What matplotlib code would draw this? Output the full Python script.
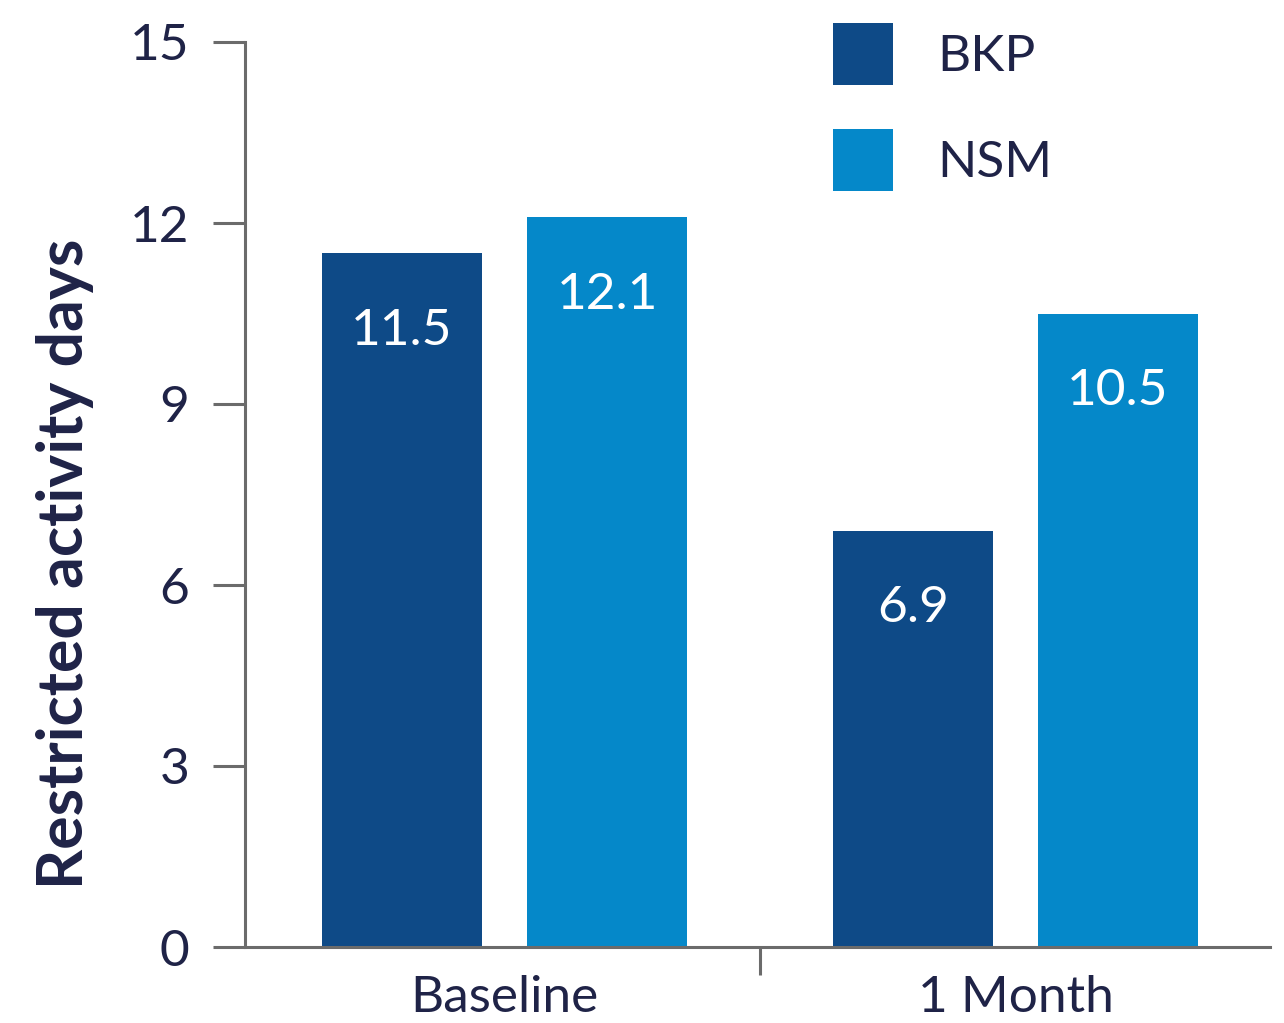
import matplotlib
matplotlib.use("Agg")
import matplotlib.pyplot as plt
import numpy as np

# Data
categories = ["Baseline", "1 Month"]
series_names = ["BKP", "NSM"]
bkp_values = [11.5, 6.9]
nsm_values = [12.1, 10.5]
y_ticks = [0, 3, 6, 9, 12, 15]

# Style
dark_blue = "#0e4a87"
light_blue = "#0588c9"
text_color = "#1f2347"
axis_color = "#6b6b6b"
plt.rcParams["font.family"] = ["Lato", "DejaVu Sans"]
fs = 37

fig = plt.figure(figsize=(12.84, 10.23), dpi=100)
ax = fig.add_axes([245 / 1284, 1 - 947 / 1023, 1025 / 1284, 905 / 1023])

x = np.arange(len(categories))
width = 0.313
offset = 0.2006
bars_bkp = ax.bar(x - offset, bkp_values, width, color=dark_blue, label=series_names[0])
bars_nsm = ax.bar(x + offset, nsm_values, width, color=light_blue, label=series_names[1])

for bars, vals in ((bars_bkp, bkp_values), (bars_nsm, nsm_values)):
    for b, v in zip(bars, vals):
        ax.annotate(f"{v:.1f}", xy=(b.get_x() + b.get_width() / 2, v),
                    xytext=(0, -56), textcoords="offset points",
                    ha="center", va="center", color="white", fontsize=fs)

ax.set_xlim(-0.508, 1.498)
ax.set_ylim(0, 15)

# Spines
for side in ("top", "right"):
    ax.spines[side].set_visible(False)
for side in ("left", "bottom"):
    ax.spines[side].set_color(axis_color)
    ax.spines[side].set_linewidth(2.2)

# Y axis
ax.set_yticks(y_ticks)
ax.tick_params(axis="y", length=23, width=2.2, color=axis_color,
               labelsize=fs, labelcolor=text_color, pad=17)

# X axis: labels at group centres, separator tick between groups
ax.set_xticks(x)
ax.set_xticklabels(categories)
ax.set_xticks([0.5], minor=True)
ax.tick_params(axis="x", which="major", length=0, labelsize=fs,
               labelcolor=text_color, pad=20)
ax.tick_params(axis="x", which="minor", length=20, width=2.2, color=axis_color)

ax.set_ylabel("Restricted activity days", fontsize=45, fontweight="bold",
              color=text_color, va="center")
ax.yaxis.set_label_coords(-0.1755, 0.4238)

leg = ax.legend(loc="upper left", bbox_to_anchor=(0.5737, 1.021),
                frameon=False, fontsize=fs, handlelength=1.167,
                handleheight=1.48, handletextpad=0.86, labelspacing=0.85,
                borderpad=0, borderaxespad=0)
for t in leg.get_texts():
    t.set_color(text_color)

fig.savefig("out.png", dpi=100)
